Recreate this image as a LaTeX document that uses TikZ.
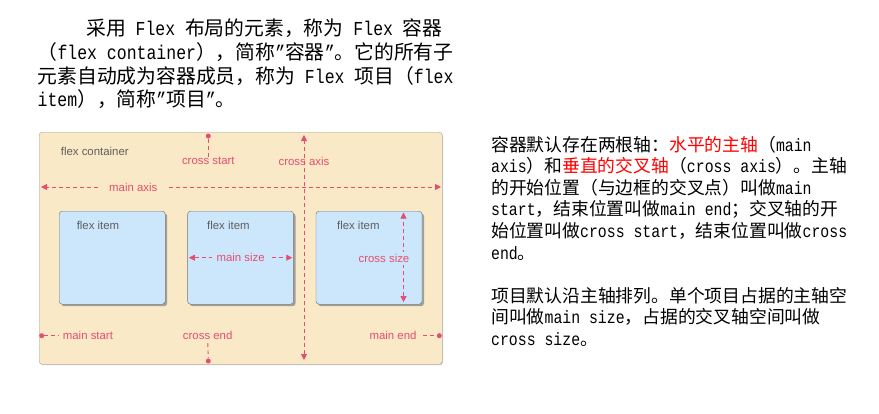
\documentclass[tikz,border=0pt]{standalone}
\usepackage{fontspec}
\setmainfont{Noto Sans CJK SC}
\newfontfamily\lat{Liberation Mono}[FakeStretch=0.833]
\newfontfamily\labfont{Liberation Sans}
\usetikzlibrary{positioning,calc,arrows.meta,shadows}
\definecolor{boxcream}{RGB}{249,233,199}
\definecolor{itemblue}{RGB}{204,230,251}
\definecolor{axispink}{RGB}{228,78,112}
\definecolor{labelgray}{RGB}{95,95,95}
\newcommand{\en}[1]{{\lat #1}}
\begin{document}
\begin{tikzpicture}[x=1pt, y=-1pt,
    container/.style={draw=black!35, fill=boxcream, rounded corners=3pt,
      minimum width=403, minimum height=232, inner sep=0pt,
      drop shadow={shadow xshift=0.8pt, shadow yshift=-1pt, opacity=0.4}},
    item/.style={draw=black!55, fill=itemblue, rounded corners=3pt,
      minimum width=106, minimum height=93, inner sep=0pt,
      drop shadow={shadow xshift=2pt, shadow yshift=-2pt, opacity=0.7}},
    graytext/.style={text=labelgray, font=\labfont\fontsize{11.4}{13}\selectfont, inner sep=0pt},
    pinktext/.style={text=axispink, font=\labfont\fontsize{11.4}{13}\selectfont, inner sep=0pt},
    axis/.style={draw=axispink, line width=0.9pt, dash pattern=on 4pt off 3pt},
    tip/.style={-{Triangle[width=6pt,length=6pt]}},
    biarrow/.style={{Triangle[width=6pt,length=6pt]}-{Triangle[width=6pt,length=6pt]}},
    dot/.style={circle, fill=axispink, inner sep=0pt, minimum size=5pt},
    textline/.style={anchor=base west, inner sep=0pt, font=\fontsize{19.8}{23.6}\selectfont},
    noteline/.style={anchor=base west, inner sep=0pt, font=\fontsize{17.8}{21.6}\selectfont}]
  \fill[white] (0,0) rectangle (879,413);
  \useasboundingbox (0,0) rectangle (879,413);

  % paragraph above the diagram
  \node[textline] (p1) at (86,35.8) {采用\en{\ Flex\ }布局的元素，称为\en{\ Flex\ }容器};
  \node[textline] (p2) at (37.5,59.4) {（\en{flex container}），简称\en{”}容器\en{”}。它的所有子};
  \node[textline] (p3) at (37.5,83) {元素自动成为容器成员，称为\en{\ Flex\ }项目（\en{flex}};
  \node[textline] (p4) at (37.5,106.6) {\en{item}），简称\en{”}项目\en{”}。};

  % container and items
  \node[container, anchor=north west] (box) at (39,132) {};
  \node[item, below right=79pt and 20pt of box.north west] (i1) {};
  \node[item, right=22pt of i1] (i2) {};
  \node[item, right=22pt of i2] (i3) {};
  \node[graytext, anchor=west] (cont) at ($(box.north west)+(21.7,19.7)$) {flex container};
  \foreach \n/\dx in {1/39,2/41,3/42.5}
    \node[graytext] (t\n) at ($(i\n.north west)+(\dx,14)$) {flex item};

  % main axis
  \coordinate (ma-l) at (41,187);
  \coordinate (ma-r) at (441,187);
  \node[pinktext, inner xsep=11pt] (ma) at (133.3,187) {main axis};
  \draw[axis, tip] (ma.west) -- (ma-l);
  \draw[axis, tip] (ma.east) -- (ma-r);

  % cross axis
  \coordinate (ca-top) at (304,135);
  \coordinate (ca-bot) at (304,360);
  \draw[axis, biarrow] (ca-bot) -- (ca-top);
  \node[pinktext] (ca) at (304,161) {cross axis};

  % start and end points
  \node[dot] (csd) at (208.3,136) {};
  \node[pinktext] (cs) at (208.3,161) {cross start};
  \draw[axis] (csd) -- (cs.north);
  \node[dot] (ced) at (208.3,361) {};
  \node[pinktext] (ce) at (207.7,335.7) {cross end};
  \draw[axis, shorten <=3pt] (ce.south) -- (ced);
  \node[dot] (msd) at (41.7,335.7) {};
  \node[pinktext, anchor=west] (mst) at (62.7,335.7) {main start};
  \draw[axis, shorten >=4pt] (msd) -- (mst.west);
  \node[dot] (med) at (439.3,335.7) {};
  \node[pinktext, anchor=east] (me) at (416.7,335.7) {main end};
  \draw[axis, shorten <=6pt] (me.east) -- (med);

  % sizes
  \draw[axis, biarrow, shorten <=1.5pt, shorten >=1.5pt] (i2.west) --
    node[pinktext, fill=itemblue, inner xsep=5pt, inner ysep=2pt] (msz) {main size} (i2.east);
  \coordinate (cz-top) at ($(i3.north east)+(-18.7,1.5)$);
  \coordinate (cz-bot) at ($(i3.south east)+(-18.7,-2.3)$);
  \draw[axis, biarrow] (cz-bot) -- (cz-top);
  \node[pinktext, fill=itemblue, inner sep=2pt] (czl) at ($(i3.center)+(15,0.8)$) {cross size};

  % notes on the right
  \node[noteline] (r1) at (491,151.1) {容器默认存在两根轴：\textcolor{red}{水平的主轴}（\en{main}};
  \node[noteline] (r2) at (491,172.7) {\en{axis}）和\textcolor{red}{垂直的交叉轴}（\en{cross axis}）。主轴};
  \node[noteline] (r3) at (491,194.3) {的开始位置（与边框的交叉点）叫做\en{main}};
  \node[noteline] (r4) at (491,215.9) {\en{start}，结束位置叫做\en{main end}；交叉轴的开};
  \node[noteline] (r5) at (491,237.5) {始位置叫做\en{cross start}，结束位置叫做\en{cross}};
  \node[noteline] (r6) at (491,259.1) {\en{end}。};
  \node[noteline] (r7) at (491,302.3) {项目默认沿主轴排列。单个项目占据的主轴空};
  \node[noteline] (r8) at (491,323.9) {间叫做\en{main size}，占据的交叉轴空间叫做};
  \node[noteline] (r9) at (491,345.5) {\en{cross size}。};
\end{tikzpicture}
\end{document}
